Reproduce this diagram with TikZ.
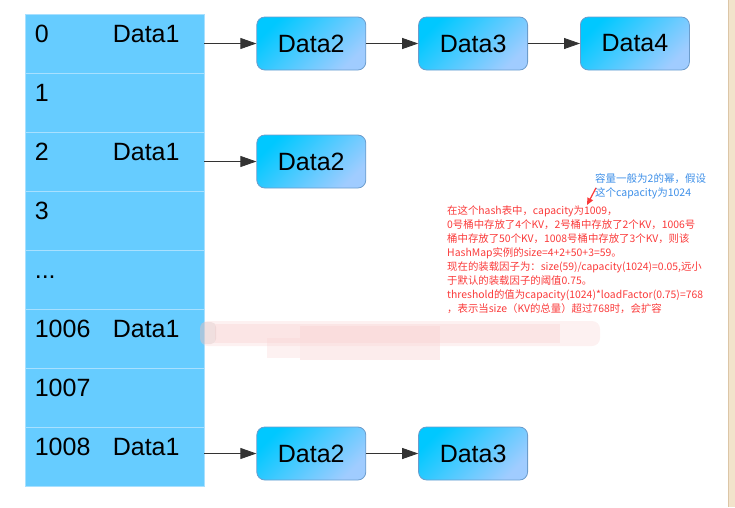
\documentclass[tikz,border=0pt]{standalone}
\usepackage{fontspec}
\setmainfont{Liberation Sans}
\newfontfamily\cjk{Noto Sans CJK SC}
\usetikzlibrary{positioning,arrows.meta}

\definecolor{slotblue}{HTML}{66CCFF}
\definecolor{slotline}{HTML}{A8E0FF}
\definecolor{entrytop}{HTML}{00C8FF}
\definecolor{entrybot}{HTML}{A0CCFF}
\definecolor{entryline}{HTML}{6C9CCC}
\definecolor{noteblue}{HTML}{3D8FE8}
\definecolor{notered}{HTML}{FA3A3A}
\definecolor{blurpink}{HTML}{F8D0D0}
\definecolor{woodtan}{HTML}{F2E3CB}
\definecolor{woodline}{HTML}{DCC6A6}

\tikzset{
  bucket/.style={rectangle, fill=slotblue, draw=slotline, line width=0.8pt,
    minimum width=179pt, minimum height=59pt, inner sep=0pt},
  slottext/.style={anchor=base west, inner sep=0pt, font=\fontsize{25}{30}\selectfont},
  entry/.style={rectangle, rounded corners=8pt, draw=entryline, line width=0.8pt,
    top color=entrytop, bottom color=entrybot, shading angle=45,
    minimum width=109pt, minimum height=53pt, inner sep=0pt,
    font=\fontsize{25}{30}\selectfont},
  link/.style={draw=black!80, line width=0.8pt, -{Triangle[length=16pt,width=11pt]}},
  capnote/.style={text=noteblue, align=left, inner sep=0pt,
    font=\cjk\fontsize{10.5}{14}\selectfont},
  sizenote/.style={text=notered, align=left, inner sep=0pt,
    font=\cjk\fontsize{10.4}{14}\selectfont},
  hint/.style={draw=notered, line width=1.2pt, -{Triangle[length=7pt,width=6pt]}}
}

\begin{document}
\begin{tikzpicture}[x=1pt, y=-1pt, node distance=52pt]
  \useasboundingbox (0,0) rectangle (735,507);
  \fill[woodtan] (728,0) rectangle (735,507);
  \draw[woodline, line width=0.8pt] (728.4,0) -- (728.4,507);

  % hash table slots
  \node[bucket] (r0) at (114.5,43.5)  {};
  \node[bucket] (r1) at (114.5,102.5) {};
  \node[bucket] (r2) at (114.5,161.5) {};
  \node[bucket] (r3) at (114.5,220.5) {};
  \node[bucket] (r4) at (114.5,279.5) {};
  \node[bucket] (r5) at (114.5,338.5) {};
  \node[bucket] (r6) at (114.5,397.5) {};
  \node[bucket] (r7) at (114.5,456.5) {};

  \node[slottext] (i0) at ([xshift=10pt,yshift=-29pt]r0.north west) {0};
  \node[slottext] (i1) at ([xshift=10pt,yshift=-29pt]r1.north west) {1};
  \node[slottext] (i2) at ([xshift=10pt,yshift=-29pt]r2.north west) {2};
  \node[slottext] (i3) at ([xshift=10pt,yshift=-29pt]r3.north west) {3};
  \node[slottext] (i4) at ([xshift=10pt,yshift=-29pt]r4.north west) {...};
  \node[slottext] (i5) at ([xshift=10pt,yshift=-29pt]r5.north west) {1006};
  \node[slottext] (i6) at ([xshift=10pt,yshift=-29pt]r6.north west) {1007};
  \node[slottext] (i7) at ([xshift=10pt,yshift=-29pt]r7.north west) {1008};

  \node[slottext] (d0) at ([xshift=88pt,yshift=-29pt]r0.north west) {Data1};
  \node[slottext] (d2) at ([xshift=88pt,yshift=-29pt]r2.north west) {Data1};
  \node[slottext] (d5) at ([xshift=88pt,yshift=-29pt]r5.north west) {Data1};
  \node[slottext] (d7) at ([xshift=88pt,yshift=-29pt]r7.north west) {Data1};

  % chained entries
  \node[entry, right=of r0]  (b01) {Data2};
  \node[entry, right=of b01] (b02) {Data3};
  \node[entry, right=of b02] (b03) {Data4};
  \node[entry, right=of r2]  (b21) {Data2};
  \node[entry, right=of r7, yshift=3pt] (b71) {Data2};
  \node[entry, right=of b71] (b72) {Data3};

  \draw[link] (r0) -- (b01);
  \draw[link] (b01) -- (b02);
  \draw[link] (b02) -- (b03);
  \draw[link] (r2.east |- b21) -- (b21);
  \draw[link] (r7.east |- b71) -- (b71);
  \draw[link] (b71) -- (b72);

  % blurred patch
  \fill[blurpink, opacity=0.3, rounded corners=8pt] (200,321) rectangle (600,346);
  \fill[blurpink, opacity=0.35] (215,324) rectangle (560,343);
  \fill[blurpink, opacity=0.4] (300,326) rectangle (440,360);
  \fill[blurpink, opacity=0.3] (267,338) rectangle (300,358);
  \fill[blurpink!70!gray, opacity=0.3, rounded corners=5pt] (200,322) rectangle (216,344);

  % notes
  \node[capnote, anchor=north west] (cap) at (595,173)
    {容量一般为2的幂，假设\\这个capacity为1024};
  \node[sizenote, anchor=north west] (calc) at (447,205)
    {在这个hash表中，capacity为1009，\\
     0号桶中存放了4个KV，2号桶中存放了2个KV，1006号\\
     桶中存放了50个KV，1008号桶中存放了3个KV，则该\\
     HashMap实例的size=4+2+50+3=59。\\
     现在的装载因子为：size(59)/capacity(1024)=0.05,远小\\
     于默认的装载因子的阈值0.75。\\
     threshold的值为capacity(1024)*loadFactor(0.75)=768\\
     ，表示当size（KV的总量）超过768时，会扩容};
  \coordinate (tip) at (587,205);
  \draw[hint] ([xshift=1pt,yshift=-2pt]cap.west) -- (tip);
\end{tikzpicture}
\end{document}
